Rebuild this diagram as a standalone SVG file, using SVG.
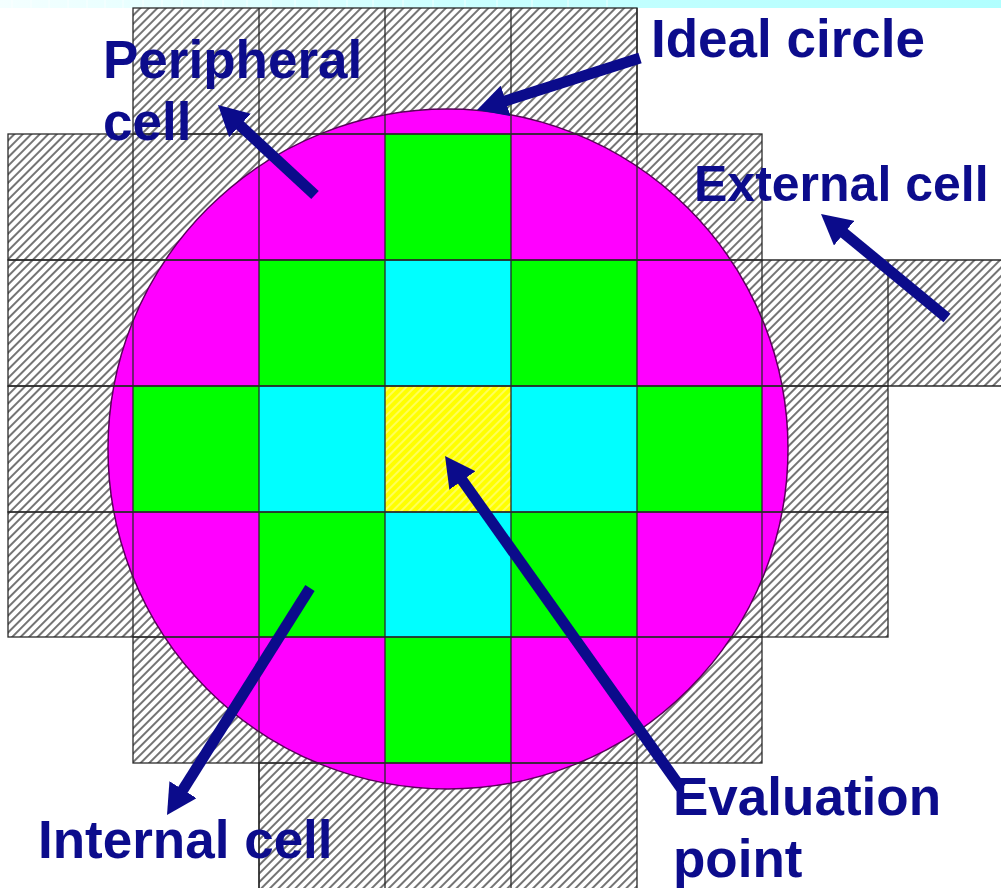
<svg xmlns="http://www.w3.org/2000/svg" width="1001" height="888" viewBox="0 0 1001 888">
  <defs>
    <linearGradient id="band" x1="0" y1="0" x2="1" y2="0">
      <stop offset="0" stop-color="#f4ffff"/>
      <stop offset="0.5" stop-color="#c8ffff"/>
      <stop offset="1" stop-color="#b0ffff"/>
    </linearGradient>
    <pattern id="hatch" patternUnits="userSpaceOnUse" width="6" height="6" patternTransform="rotate(45)">
      <rect width="6" height="6" fill="#ffffff"/>
      <line x1="3" y1="0" x2="3" y2="6" stroke="#2a2a2a" stroke-width="1.3"/>
    </pattern>
    <pattern id="yhatch" patternUnits="userSpaceOnUse" width="6" height="6" patternTransform="rotate(45)">
      <rect width="6" height="6" fill="#ffff00"/>
      <line x1="3" y1="0" x2="3" y2="6" stroke="#ffff88" stroke-width="1.3"/>
    </pattern>
    <marker id="head" viewBox="0 0 30 32" markerWidth="30" markerHeight="32" refX="9" refY="16" orient="auto" markerUnits="userSpaceOnUse">
      <path d="M0,0 L30,16 L0,32 z" fill="#0b0b8b"/>
    </marker>
  </defs>
  <style>
    .ext { fill: url(#hatch); }
    .grn { fill: #00ff00; }
    .cyn { fill: #00ffff; }
    .yel { fill: url(#yhatch); }
    .grid { fill: none; stroke: #2a2a2a; stroke-width: 1.3; }
    .lbl { font-family: "Liberation Sans", Arial, sans-serif; font-weight: bold; font-size: 53px; fill: #0c0c8c; }
    .arrow { stroke: #0b0b8b; stroke-width: 11; fill: none; marker-end: url(#head); }
    .bandline { stroke: #ffffff; stroke-width: 1; opacity: 0.7; }
  </style>

  <rect width="1001" height="888" fill="#ffffff"/>

  <g id="top-band">
    <rect x="0" y="0" width="1001" height="8" fill="url(#band)"/>
    <g class="bandline">
      <line x1="12" y1="0" x2="12" y2="8"/><line x1="31" y1="0" x2="31" y2="8"/>
      <line x1="49" y1="0" x2="49" y2="8"/><line x1="68" y1="0" x2="68" y2="8"/>
      <line x1="87" y1="0" x2="87" y2="8"/><line x1="105" y1="0" x2="105" y2="8"/>
      <line x1="123" y1="0" x2="123" y2="8"/><line x1="143" y1="0" x2="143" y2="8"/>
      <line x1="162" y1="0" x2="162" y2="8"/><line x1="182" y1="0" x2="182" y2="8"/>
      <line x1="203" y1="0" x2="203" y2="8"/><line x1="223" y1="0" x2="223" y2="8"/>
      <line x1="247" y1="0" x2="247" y2="8"/><line x1="271" y1="0" x2="271" y2="8"/>
      <line x1="295" y1="0" x2="295" y2="8"/><line x1="319" y1="0" x2="319" y2="8"/>
      <line x1="347" y1="0" x2="347" y2="8"/><line x1="373" y1="0" x2="373" y2="8"/>
      <line x1="403" y1="0" x2="403" y2="8"/><line x1="433" y1="0" x2="433" y2="8"/>
      <line x1="465" y1="0" x2="465" y2="8"/><line x1="497" y1="0" x2="497" y2="8"/>
      <line x1="532" y1="0" x2="532" y2="8"/><line x1="568" y1="0" x2="568" y2="8"/>
      <line x1="607" y1="0" x2="607" y2="8"/>
    </g>
  </g>

  <g id="external-cells" class="ext">
    <rect x="133" y="8" width="504" height="126"/>
    <rect x="8" y="134" width="754" height="126"/>
    <rect x="8" y="260" width="1006" height="126"/>
    <rect x="8" y="386" width="880" height="126"/>
    <rect x="8" y="512" width="880" height="125"/>
    <rect x="133" y="637" width="629" height="126"/>
    <rect x="259" y="763" width="378" height="126"/>
  </g>

  <g id="ideal-circle">
    <circle cx="448" cy="449" r="340" fill="#ff00ff" stroke="#5a005a" stroke-width="1.5"/>
  </g>

  <g id="internal-cells">
    <rect class="grn" x="385" y="134" width="126" height="126"/>
    <rect class="grn" x="259" y="260" width="126" height="126"/>
    <rect class="cyn" x="385" y="260" width="126" height="126"/>
    <rect class="grn" x="511" y="260" width="126" height="126"/>
    <rect class="grn" x="133" y="386" width="126" height="126"/>
    <rect class="cyn" x="259" y="386" width="126" height="126"/>
    <rect class="cyn" x="511" y="386" width="126" height="126"/>
    <rect class="grn" x="637" y="386" width="125" height="126"/>
    <rect class="grn" x="259" y="512" width="126" height="125"/>
    <rect class="cyn" x="385" y="512" width="126" height="125"/>
    <rect class="grn" x="511" y="512" width="126" height="125"/>
    <rect class="grn" x="385" y="637" width="126" height="126"/>
  </g>

  <g id="evaluation-point">
    <rect class="yel" x="385" y="386" width="126" height="126"/>
  </g>

  <g id="grid" class="grid">
    <rect x="133" y="8" width="504" height="126"/>
    <rect x="8" y="134" width="754" height="126"/>
    <path d="M1014,260 H8 V386 H1014"/>
    <rect x="8" y="386" width="880" height="126"/>
    <rect x="8" y="512" width="880" height="125"/>
    <rect x="133" y="637" width="629" height="126"/>
    <rect x="259" y="763" width="378" height="126"/>
    <path d="M133,134 V637 M259,8 V889 M385,8 V889 M511,8 V889 M637,8 V763 M762,260 V637 M888,260 V386"/>
  </g>

  <g id="connectors">
    <line class="arrow" x1="315" y1="195" x2="233.4" y2="119.3"/>
    <line class="arrow" x1="640" y1="58" x2="497" y2="103.6"/>
    <line class="arrow" x1="947" y1="318" x2="837.2" y2="227.4"/>
    <line class="arrow" x1="310" y1="588" x2="178.2" y2="797.3"/>
    <line class="arrow" x1="681" y1="788" x2="457.2" y2="473.1"/>
  </g>

  <g id="label-peripheral">
    <text class="lbl" x="103" y="78">Peripheral</text>
    <text class="lbl" x="103" y="140">cell</text>
  </g>
  <g id="label-ideal-circle">
    <text class="lbl" x="651" y="57">Ideal circle</text>
  </g>
  <g id="label-external">
    <text class="lbl" x="694" y="201" style="font-size:50px">External cell</text>
  </g>
  <g id="label-internal">
    <text class="lbl" x="38" y="858">Internal cell</text>
  </g>
  <g id="label-evaluation">
    <text class="lbl" x="673" y="815">Evaluation</text>
    <text class="lbl" x="673" y="877">point</text>
  </g>
</svg>
